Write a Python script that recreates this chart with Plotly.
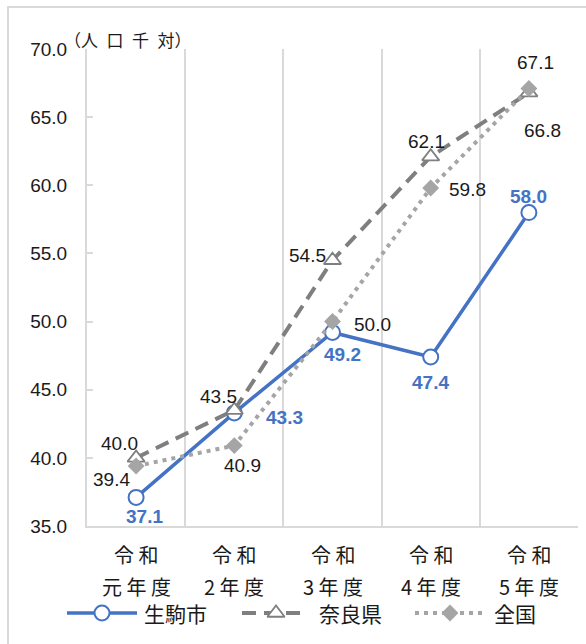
import plotly.graph_objects as go

# ---- data ----
categories = ["令和元年度", "令和2年度", "令和3年度", "令和4年度", "令和5年度"]
ikoma = [37.1, 43.3, 49.2, 47.4, 58.0]
nara = [40.0, 43.5, 54.5, 62.1, 66.8]
zenkoku = [39.4, 40.9, 50.0, 59.8, 67.1]
series_names = ["生駒市", "奈良県", "全国"]
y_ticks = [35, 40, 45, 50, 55, 60, 65, 70]
y_unit = "（人口千対）"

# ---- styling ----
W, H = 586, 644
PLOT_L, PLOT_R, PLOT_T, PLOT_B = 87, 578, 49, 526
BLUE = "#4472C4"
DARK = "#7F7F7F"
LIGHT = "#A5A5A5"
GRID = "#D9D9D9"
TXT = "#1A1A1A"
NUM_FONT = "Liberation Sans, Arial, sans-serif"
JP_FONT = "Noto Sans CJK JP, sans-serif"

styles = [
    dict(line=dict(color=BLUE, width=3.5),
         marker=dict(symbol="circle", size=15, color="white", line=dict(color=BLUE, width=2))),
    dict(line=dict(color=DARK, width=4, dash="14px,8px"),
         marker=dict(symbol="triangle-up", size=15, color="white", line=dict(color=DARK, width=1.8))),
    dict(line=dict(color=LIGHT, width=4, dash="4px,5px"),
         marker=dict(symbol="diamond", size=13, color=LIGHT, line=dict(color=LIGHT, width=0))),
]

# label offsets (px) from each point
label_offsets = [
    [(8, -19), (50, -5), (10, -22), (0, -25), (0, 16)],
    [(-17, 14), (-16, 14), (-25, 5), (-4, 15), (14, -38)],
    [(-25, -13), (8, -20), (40, -3), (37, -1), (7, 26)],
]

all_series = [ikoma, nara, zenkoku]
xs = list(range(1, len(categories) + 1))

fig = go.Figure()

for name, vals, st in zip(series_names, all_series, styles):
    fig.add_trace(go.Scatter(
        x=xs, y=vals, mode="lines+markers", name=name,
        line=st["line"], marker=st["marker"], showlegend=False,
        xaxis="x", yaxis="y",
    ))

annotations = []
for si, (vals, offs) in enumerate(zip(all_series, label_offsets)):
    for x, v, (dx, dy) in zip(xs, vals, offs):
        if si == 0:
            font = dict(family=NUM_FONT, size=19, color=BLUE, weight="bold")
        else:
            font = dict(family=NUM_FONT, size=19, color=TXT)
        annotations.append(dict(
            x=x, y=v, xref="x", yref="y", text=f"{v:.1f}",
            showarrow=False, xshift=dx, yshift=dy,
            xanchor="center", yanchor="middle", font=font,
        ))

# category labels (two lines each)
for x, c in zip(xs, categories):
    top, bottom = c[:2], c[2:]
    annotations.append(dict(
        x=x, y=554, xref="x", yref="y2", text=" ".join(top), showarrow=False,
        xanchor="center", yanchor="middle", borderpad=0,
        font=dict(family=JP_FONT, size=20, color=TXT)))
    annotations.append(dict(
        x=x, y=586, xref="x", yref="y2", text=" ".join(bottom), showarrow=False,
        xanchor="center", yanchor="middle", borderpad=0,
        font=dict(family=JP_FONT, size=20, color=TXT)))

# axis unit label
annotations.append(dict(
    x=62, y=39, xref="x2", yref="y2",
    text=y_unit[0] + "\u2002".join(y_unit[1:-1]) + y_unit[-1],
    showarrow=False, xanchor="left", yanchor="middle",
    font=dict(family=JP_FONT, size=17, color=TXT)))

# legend built on the pixel overlay axes
legend_items = [
    (67, 137, 102, 143),
    (242, 308, 276, 318),
    (415, 483, 450, 493),
]
LEG_Y = 613
for name, st, (x0, x1, xm, xt) in zip(series_names, styles, legend_items):
    fig.add_trace(go.Scatter(
        x=[x0, x1], y=[LEG_Y, LEG_Y], mode="lines", line=st["line"],
        showlegend=False, hoverinfo="skip", xaxis="x2", yaxis="y2"))
    fig.add_trace(go.Scatter(
        x=[xm], y=[LEG_Y], mode="markers", marker=st["marker"],
        showlegend=False, hoverinfo="skip", xaxis="x2", yaxis="y2"))
    annotations.append(dict(
        x=xt, y=LEG_Y, xref="x2", yref="y2", text=name, showarrow=False,
        xanchor="left", yanchor="middle", borderpad=0,
        font=dict(family=JP_FONT, size=21, color=TXT)))

shapes = [
    # outer frame (top and left edges visible)
    dict(type="rect", xref="x2", yref="y2", x0=8, y0=7, x1=W + 20, y1=H + 20,
         line=dict(color=GRID, width=2), fillcolor="rgba(0,0,0,0)", layer="below"),
]

fig.update_layout(
    width=W, height=H, autosize=False,
    margin=dict(l=0, r=0, t=0, b=0, pad=0, autoexpand=False),
    paper_bgcolor="white", plot_bgcolor="rgba(0,0,0,0)",
    showlegend=False,
    xaxis=dict(
        domain=[PLOT_L / W, PLOT_R / W], range=[0.5, len(categories) + 0.5],
        tickvals=[i + 0.5 for i in range(len(categories) + 1)],
        showticklabels=False, ticks="",
        showgrid=True, gridcolor=GRID, gridwidth=2,
        showline=True, linecolor=GRID, linewidth=2, zeroline=False, fixedrange=True,
        automargin=False,
    ),
    yaxis=dict(
        domain=[(H - PLOT_B) / H, (H - PLOT_T) / H], range=[35, 70],
        tickvals=y_ticks, tickformat=".1f",
        ticks="inside", ticklen=6, tickcolor=GRID, tickwidth=1.5,
        ticklabelstandoff=14,
        tickfont=dict(family=NUM_FONT, size=19, color=TXT),
        showgrid=False, showline=True, linecolor=GRID, linewidth=2,
        zeroline=False, fixedrange=True, automargin=False,
    ),
    xaxis2=dict(domain=[0, 1], range=[0, W], visible=False, fixedrange=True,
                anchor="y2", automargin=False),
    yaxis2=dict(domain=[0, 1], range=[H, 0], visible=False, fixedrange=True,
                anchor="x2", automargin=False),
    annotations=annotations,
    shapes=shapes,
)

fig.write_html("out.html")
